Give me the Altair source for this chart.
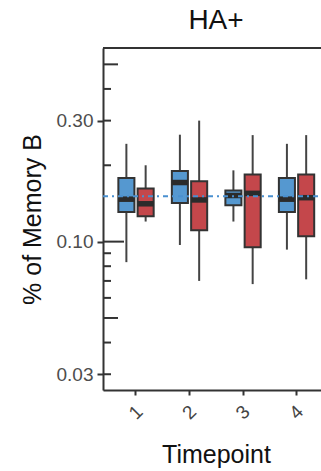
import altair as alt
import pandas as pd

# ---- data ----
timepoints = [1, 2, 3, 4]
groups = ["Group A", "Group B"]

a_low = [0.083, 0.097, 0.120, 0.093]
a_q1 = [0.131, 0.142, 0.139, 0.131]
a_med = [0.147, 0.171, 0.152, 0.147]
a_q3 = [0.178, 0.190, 0.159, 0.178]
a_high = [0.243, 0.264, 0.191, 0.243]

b_low = [0.120, 0.070, 0.068, 0.071]
b_q1 = [0.126, 0.111, 0.095, 0.105]
b_med = [0.141, 0.146, 0.155, 0.149]
b_q3 = [0.162, 0.173, 0.184, 0.184]
b_high = [0.200, 0.300, 0.263, 0.263]

ref_value = [0.151]
major_ticks = [0.03, 0.1, 0.3]
mid_ticks = [0.05, 0.5]
minor_ticks = [0.04, 0.06, 0.07, 0.08, 0.09, 0.2, 0.4]

rows = []
for g, lo, q1, md, q3, hi in [
    (groups[0], a_low, a_q1, a_med, a_q3, a_high),
    (groups[1], b_low, b_q1, b_med, b_q3, b_high),
]:
    for i, t in enumerate(timepoints):
        rows.append(dict(tp=t, grp=g, lo=lo[i], q1=q1[i], med=md[i], q3=q3[i], hi=hi[i]))
df = pd.DataFrame(rows)

W, H = 218, 342
FONT = "Liberation Sans"
DARK = "#333333"

xscale = alt.Scale(domain=[0.393, 4.467], nice=False, zero=False)
yscale = alt.Scale(type="log", domain=[0.026, 0.58], nice=False)

x_axis = alt.Axis(
    values=timepoints, format="d", grid=False,
    tickSize=5, tickWidth=2, tickColor=DARK,
    domainColor=DARK, domainWidth=2,
    labelAngle=315, labelAlign="center", labelBaseline="middle",
    labelPadding=17, labelFontSize=19, labelColor="#444444", labelFont=FONT,
    title="Timepoint", titleFont=FONT, titleFontSize=25, titleFontWeight="normal",
    titleColor="#111111", titleX=113, titleY=72, titleAlign="center",
    titleBaseline="alphabetic",
)
y_axis = alt.Axis(
    values=major_ticks, format=".2f", grid=False,
    tickSize=6, tickWidth=2, tickColor=DARK,
    domainColor=DARK, domainWidth=2,
    labelPadding=4, labelFontSize=19, labelColor="#4d4d4d", labelFont=FONT,
    title="% of Memory B", titleFont=FONT, titleFontSize=25, titleFontWeight="normal",
    titleColor="#111111", titleAngle=270, titleX=-63, titleY=171,
    titleAlign="center", titleBaseline="alphabetic",
)

base = alt.Chart(df).transform_calculate(
    xc="datum.tp + (datum.grp == 'Group A' ? -0.17 : 0.19)",
    xl="datum.xc - 0.15",
    xr="datum.xc + 0.15",
)

whiskers = base.mark_rule(color="#444444", strokeWidth=2).encode(
    x=alt.X("xc:Q", scale=xscale, axis=x_axis),
    y=alt.Y("lo:Q", scale=yscale, axis=y_axis),
    y2="hi:Q",
)
boxes = base.mark_rect(stroke=DARK, strokeWidth=2).encode(
    x="xl:Q", x2="xr:Q", y="q1:Q", y2="q3:Q",
    fill=alt.Fill("grp:N", scale=alt.Scale(domain=groups, range=["#5598d0", "#c4474b"]), legend=None),
)
medians = base.mark_rule(color="#2b2b2b", strokeWidth=5.5).encode(
    x="xl:Q", x2="xr:Q", y="med:Q",
)

ref = alt.Chart(pd.DataFrame({"v": ref_value})).mark_rule(
    color="#4a90d0", strokeWidth=2, strokeDash=[5, 4, 2, 4]
).encode(y=alt.Y("v:Q", scale=yscale), x=alt.value(0), x2=alt.value(W))


def tick_layer(vals, length):
    return alt.Chart(pd.DataFrame({"v": vals})).mark_rule(color=DARK, strokeWidth=2).encode(
        y=alt.Y("v:Q", scale=yscale), x=alt.value(0), x2=alt.value(length)
    )


ticks_minor = tick_layer(minor_ticks + [0.03, 0.3], 8)
ticks_mid = tick_layer(mid_ticks, 15)
ticks_big = tick_layer([0.1], 21)

top_border = alt.Chart(pd.DataFrame({"v": [0.58]})).mark_rule(color=DARK, strokeWidth=2).encode(
    y=alt.Y("v:Q", scale=yscale), x=alt.value(0), x2=alt.value(W)
)

chart = alt.layer(
    whiskers, boxes, medians, ref, ticks_minor, ticks_mid, ticks_big, top_border
).properties(
    width=W, height=H,
    autosize=alt.AutoSizeParams(type="none"),
    padding={"left": 103, "top": 48, "right": 0, "bottom": 81},
    title=alt.Title("HA+", font=FONT, fontSize=28, fontWeight="normal", color="#111111",
                    anchor="middle", frame="group", dx=4, dy=28, offset=18,
                    baseline="alphabetic"),
).configure_view(stroke=None).configure(background="white")

chart.save("out.html", embed_options={"renderer": "svg", "actions": False})
